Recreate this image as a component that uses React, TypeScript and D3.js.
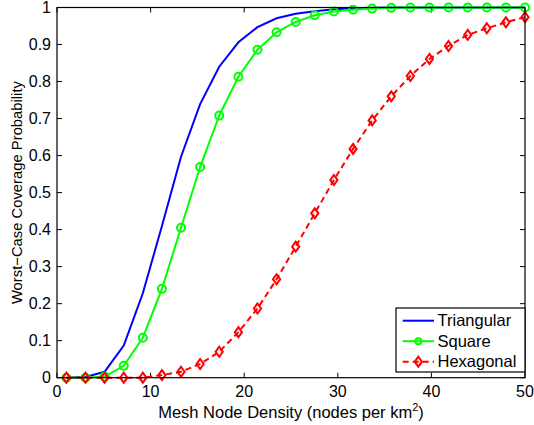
import React from "react";
import * as d3 from "d3";

const densities = [1, 3.04, 5.08, 7.13, 9.17, 11.21, 13.25, 15.29, 17.33, 19.38, 21.42, 23.46, 25.5, 27.54, 29.58, 31.63, 33.67, 35.71, 37.75, 39.79, 41.83, 43.88, 45.92, 47.96, 50];
const triangular = [0, 0.002, 0.016, 0.087, 0.228, 0.41, 0.597, 0.739, 0.84, 0.906, 0.947, 0.971, 0.983, 0.99, 0.995, 0.998, 0.999, 1, 1, 1, 1, 1, 1, 1, 1];
const square = [0, 0, 0.003, 0.032, 0.108, 0.24, 0.405, 0.569, 0.708, 0.813, 0.886, 0.933, 0.961, 0.979, 0.989, 0.994, 0.997, 0.999, 1, 1, 1, 1, 1, 1, 1];
const hexagonal = [0, 0, 0, 0, 0, 0.007, 0.016, 0.037, 0.07, 0.123, 0.187, 0.266, 0.354, 0.444, 0.534, 0.618, 0.695, 0.76, 0.815, 0.861, 0.896, 0.926, 0.944, 0.96, 0.974];
const xTicks = [0, 10, 20, 30, 40, 50];
const yTicks = [0, 0.1, 0.2, 0.3, 0.4, 0.5, 0.6, 0.7, 0.8, 0.9, 1];
const seriesNames = ["Triangular", "Square", "Hexagonal"];

const W = 534, H = 425;
const L = 57, R = 525, T = 7.5, B = 377.7;
const FONT = "'Liberation Sans', Arial, Helvetica, sans-serif";

export default function App() {
  const x = d3.scaleLinear().domain([0, 50]).range([L, R]);
  const y = d3.scaleLinear().domain([0, 1]).range([B, T]);
  const line = d3.line<number>().x((_, i) => x(densities[i])).y((d) => y(d));
  const tick = 5;
  const diamond = (cx: number, cy: number) =>
    `M${cx},${cy - 5}L${cx + 3.6},${cy}L${cx},${cy + 5}L${cx - 3.6},${cy}Z`;

  const lx = 396, ly = 308, lw = R - 396, lh = 64;
  const rows = [320.7, 341.2, 361.7];

  return (
    <svg width={W} height={H} style={{ position: "absolute", left: 0, top: 0, background: "#fff" }} fontFamily={FONT}>
      <rect x={0} y={0} width={W} height={H} fill="#fff" />
      {/* ticks */}
      {xTicks.map((t) => (
        <g key={"x" + t}>
          <line x1={x(t)} x2={x(t)} y1={B} y2={B - tick} stroke="#000" strokeWidth={1} />
          <line x1={x(t)} x2={x(t)} y1={T} y2={T + tick} stroke="#000" strokeWidth={1} />
          <text x={x(t)} y={397} textAnchor="middle" fontSize={16} fill="#000">{t}</text>
        </g>
      ))}
      {yTicks.map((t) => (
        <g key={"y" + t}>
          <line x1={L} x2={L + tick} y1={y(t)} y2={y(t)} stroke="#000" strokeWidth={1} />
          <line x1={R} x2={R - tick} y1={y(t)} y2={y(t)} stroke="#000" strokeWidth={1} />
          <text x={51} y={y(t)} dy="0.35em" textAnchor="end" fontSize={16} fill="#000">{t}</text>
        </g>
      ))}
      {/* series */}
      <path d={line(triangular) || ""} fill="none" stroke="#0000ff" strokeWidth={2} />
      <path d={line(square) || ""} fill="none" stroke="#00ff00" strokeWidth={2} />
      {square.map((v, i) => (
        <circle key={"s" + i} cx={x(densities[i])} cy={y(v)} r={4} fill="none" stroke="#00ff00" strokeWidth={2} />
      ))}
      <path d={line(hexagonal) || ""} fill="none" stroke="#ff0000" strokeWidth={2} strokeDasharray="6,4" />
      {hexagonal.map((v, i) => (
        <path key={"h" + i} d={diamond(x(densities[i]), y(v))} fill="none" stroke="#ff0000" strokeWidth={2} />
      ))}
      {/* box */}
      <rect x={L} y={T} width={R - L} height={B - T} fill="none" stroke="#000" strokeWidth={1.2} />
      {/* legend */}
      <rect x={lx} y={ly} width={lw} height={lh} fill="#fff" stroke="#000" strokeWidth={1.2} />
      <line x1={402.7} x2={434} y1={rows[0]} y2={rows[0]} stroke="#0000ff" strokeWidth={2} />
      <line x1={402.7} x2={434} y1={rows[1]} y2={rows[1]} stroke="#00ff00" strokeWidth={2} />
      <circle cx={418.3} cy={rows[1]} r={3} fill="none" stroke="#00ff00" strokeWidth={2} />
      <line x1={402.7} x2={434} y1={rows[2]} y2={rows[2]} stroke="#ff0000" strokeWidth={2} strokeDasharray="6,4" />
      <path d={diamond(418.3, rows[2])} fill="none" stroke="#ff0000" strokeWidth={2} />
      {seriesNames.map((n, i) => (
        <text key={n} x={437.5} y={rows[i]} dy="0.35em" fontSize={16.5} fill="#000">{n}</text>
      ))}
      {/* axis labels */}
      <text x={291} y={418} textAnchor="middle" fontSize={16.5} fill="#000">
        Mesh Node Density (nodes per km<tspan dy={-7} fontSize={11}>2</tspan><tspan dy={7}>)</tspan>
      </text>
      <text transform={`translate(22,${(T + B) / 2}) rotate(-90)`} textAnchor="middle" fontSize={14.8} fill="#000">
        Worst−Case Coverage Probability
      </text>
    </svg>
  );
}
